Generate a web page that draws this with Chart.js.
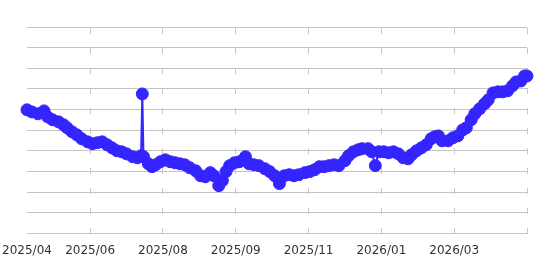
<!DOCTYPE html>
<html>
<head>
<meta charset="utf-8">
<script src="https://cdn.jsdelivr.net/npm/chart.js@4"></script>
<style>
  html, body { margin: 0; padding: 0; background: #fff; }
  #wrap { width: 540px; height: 270px; }
</style>
</head>
<body>
<div id="wrap"><canvas id="c"></canvas></div>
<script>
// Days since 2025-04-11
const days = [0,4,9,14,17,21,26,30,33,37,41,45,50,54,58,62,66,70,74,78,82,87,91,94,95,96,100,103,106,110,114,118,122,126,130,134,139,143,147,151,154,158,161,164,167,171,175,180,183,187,191,196,200,204,208,212,216,220,224,229,233,237,241,245,249,253,257,262,265,269,273,276,281,284,287,290,294,298,302,306,310,314,317,321,325,329,333,336,339,342,347,351,355,359,362,366,369,373,377,380,384,388,392,396,400,403,407,410,412];
const values = [59.9,58.9,58.0,59.4,56.5,55.1,54.1,52.7,51.2,49.3,47.8,45.9,44.4,43.5,44.0,44.4,43.0,41.5,40.1,39.6,38.6,37.2,36.7,37.7,67.6,37.2,33.8,32.4,33.3,34.8,35.7,34.8,34.3,33.8,33.3,31.9,30.4,28.0,27.5,29.5,28.0,23.2,25.6,30.0,32.9,34.3,34.8,37.2,33.8,33.3,32.9,31.4,30.0,28.0,24.2,28.0,28.5,28.0,28.5,29.5,30.0,30.9,32.4,32.4,32.9,33.3,32.9,35.3,37.7,39.6,40.6,41.1,41.1,39.6,32.9,39.6,39.6,39.1,39.6,38.6,36.7,36.2,38.2,40.1,41.5,43.0,45.9,46.9,47.3,44.9,44.9,46.4,47.3,50.2,51.2,55.1,58.0,60.4,62.8,64.7,68.1,68.6,68.6,69.1,71.5,73.4,73.9,76.3,76.3];
const tickDays = [0,52,112,172,232,292,352,412];
const tickLabels = ["2025/04","2025/06","2025/08","2025/09","2025/11","2026/01","2026/03",""];

const points = days.map((d,i)=>({x:d,y:values[i]}));
const blue = 'rgb(52,36,255)';

new Chart(document.getElementById('c'), {
  type: 'line',
  data: {
    datasets: [{
      data: points,
      borderColor: blue,
      backgroundColor: blue,
      borderWidth: 2,
      pointRadius: 6,
      pointBorderWidth: 1,
      pointBackgroundColor: blue,
      pointBorderColor: blue,
      tension: 0,
      clip: false
    }]
  },
  options: {
    responsive: true,
    maintainAspectRatio: false,
    animation: false,
    events: [],
    layout: { padding: { left: 27, right: 13, top: 27, bottom: 2 } },
    plugins: { legend: { display: false }, tooltip: { enabled: false } },
    scales: {
      x: {
        type: 'linear',
        min: 0,
        max: 412,
        afterBuildTicks: (scale) => { scale.ticks = tickDays.map(v => ({ value: v })); },
        afterFit: (scale) => { scale.paddingLeft = 0; scale.paddingRight = 0; },
        ticks: {
          autoSkip: false,
          maxRotation: 0,
          padding: 10,
          color: '#333',
          font: { family: 'DejaVu Sans', size: 12 },
          callback: (v) => { const i = tickDays.indexOf(v); return i >= 0 ? tickLabels[i] : ''; }
        },
        grid: {
          drawTicks: false,
          color: (ctx) => (ctx.tick && ctx.tick.value === 0) ? 'rgba(0,0,0,0)' : '#c8c8c8',
          lineWidth: 1
        },
        border: { display: false, dash: [6, 14], dashOffset: -1 }
      },
      y: {
        min: 0,
        max: 100,
        ticks: { display: false, stepSize: 10 },
        grid: { drawTicks: false, color: '#c4c4c4', lineWidth: 1 },
        border: { display: false }
      }
    }
  }
});
</script>
</body>
</html>
